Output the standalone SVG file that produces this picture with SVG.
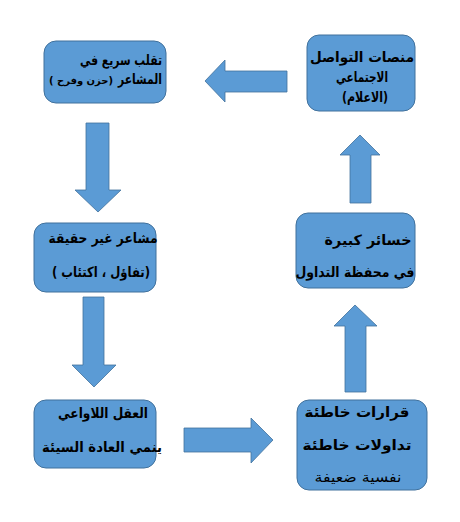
<svg xmlns="http://www.w3.org/2000/svg" width="460" height="522" viewBox="0 0 460 522">
<style>
.box{fill:#5B9BD5;stroke:#41719C;stroke-width:1}
.arr{fill:#5B9BD5;stroke:#41719C;stroke-width:0.8}
text{font-family:"DejaVu Sans","Liberation Sans",sans-serif;fill:#000;font-weight:bold;font-size:14px;text-anchor:middle}
.reg{font-weight:normal}
.sm{font-size:10px}
</style>
<rect width="460" height="522" fill="#fff"/>
<g id="connectors">
<polygon class="arr" points="205,81 225,60 225,71 287,71 287,92 225,92 225,102"/>
<polygon class="arr" points="86,123 109,123 109,190 121,190 98,212 75,190 86,190"/>
<polygon class="arr" points="83,297 104,297 104,365 116,365 94,387 72,365 83,365"/>
<polygon class="arr" points="184,428 251,428 251,418 273,440 251,463 251,452 184,452"/>
<polygon class="arr" points="355,305 377,326 366,326 366,392 345,392 345,326 334,326"/>
<polygon class="arr" points="360,135 380,155 371,155 371,203 350,203 350,155 340,155"/>
</g>
<g id="node1">
<rect class="box" x="44" y="41" width="122" height="62" rx="12"/>
<text x="121" y="65" direction="rtl" textLength="82" lengthAdjust="spacingAndGlyphs">تقلب سريع في</text>
<text x="140" y="84" direction="rtl" textLength="44" lengthAdjust="spacingAndGlyphs">المشاعر</text>
<text class="sm" x="81" y="84" direction="rtl" textLength="64" lengthAdjust="spacingAndGlyphs">(حزن وفرح )</text>
</g>
<g id="node2">
<rect class="box" x="307" y="35" width="108" height="76" rx="12"/>
<text x="362" y="62" direction="rtl" textLength="104" lengthAdjust="spacingAndGlyphs">منصات التواصل</text>
<text x="362" y="82" direction="rtl" textLength="52" lengthAdjust="spacingAndGlyphs">الاجتماعي</text>
<text x="365" y="102" direction="rtl" textLength="46" lengthAdjust="spacingAndGlyphs">(الاعلام)</text>
</g>
<g id="node3">
<rect class="box" x="34" y="223" width="122" height="69" rx="12"/>
<text x="103" y="243" direction="rtl" textLength="109" lengthAdjust="spacingAndGlyphs">مشاعر غير حقيقة</text>
<text x="101" y="277" direction="rtl" textLength="98" lengthAdjust="spacingAndGlyphs">(تفاؤل ، اكتئاب )</text>
</g>
<g id="node4">
<rect class="box" x="296" y="213" width="119" height="75" rx="12"/>
<text x="368" y="245" direction="rtl" textLength="87" lengthAdjust="spacingAndGlyphs">خسائر كبيرة</text>
<text x="355" y="277" direction="rtl" textLength="119" lengthAdjust="spacingAndGlyphs">في محفظة التداول</text>
</g>
<g id="node5">
<rect class="box" x="34" y="400" width="122" height="68" rx="12"/>
<text x="103" y="418" direction="rtl" textLength="90" lengthAdjust="spacingAndGlyphs">العقل اللاواعي</text>
<text x="102" y="452" direction="rtl" textLength="120" lengthAdjust="spacingAndGlyphs">ينمي العادة السيئة</text>
</g>
<g id="node6">
<rect class="box" x="297" y="400" width="130" height="90" rx="12"/>
<text x="357" y="417" direction="rtl" textLength="105" lengthAdjust="spacingAndGlyphs">قرارات خاطئة</text>
<text x="357" y="450" direction="rtl" textLength="109" lengthAdjust="spacingAndGlyphs">تداولات خاطئة</text>
<text class="reg" x="358" y="482" direction="rtl" textLength="87" lengthAdjust="spacingAndGlyphs">نفسية ضعيفة</text>
</g>
</svg>
